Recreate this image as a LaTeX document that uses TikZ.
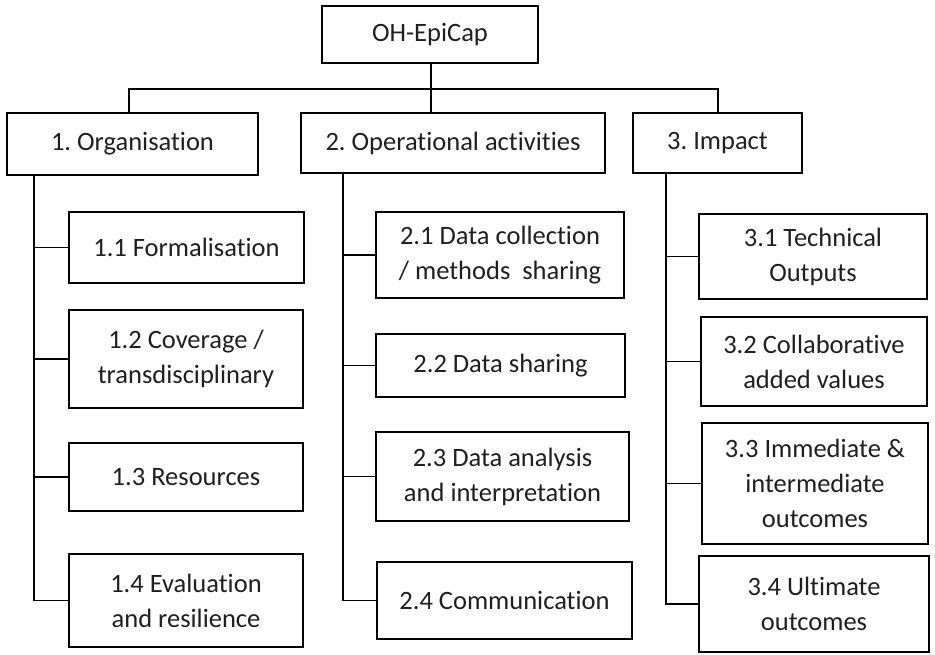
\documentclass[tikz,border=0pt]{standalone}
\usepackage{fontspec}
\setmainfont{Carlito}[Ligatures={NoCommon}]
\begin{document}
\frenchspacing
\begin{tikzpicture}[x=1pt,y=-1pt,
  box/.style={draw=black,line width=1.7pt,rectangle,inner sep=0pt,align=center,
    text=black!88,font=\fontsize{26.5}{35}\selectfont},
  conn/.style={draw=black,line width=1.7pt}]
\useasboundingbox (0,0) rectangle (935,654);
% top level
\node[box,minimum width=216,minimum height=57] (top) at (430,34.5) {OH-EpiCap};
\node[box,minimum width=251,minimum height=62] (b1) at (132.5,144) {1. Organisation};
\node[box,minimum width=304,minimum height=60] (b2) at (453,143) {2. Operational activities};
\node[box,minimum width=169,minimum height=60] (b3) at (717.5,143) {3. Impact};
% column 1
\node[box,minimum width=235,minimum height=71] (n11) at (186.5,247.5) {1.1 Formalisation};
\node[box,minimum width=234,minimum height=98] (n12) at (186,359) {1.2 Coverage /\\transdisciplinary};
\node[box,minimum width=234,minimum height=68] (n13) at (186,477) {1.3 Resources};
\node[box,minimum width=234,minimum height=93] (n14) at (186,600.5) {1.4 Evaluation\\and resilience};
% column 2
\node[box,minimum width=248,minimum height=86] (n21) at (500,255) {2.1 Data collection\\/ methods\ \ sharing};
\node[box,minimum width=249,minimum height=63] (n22) at (500.5,365.5) {2.2 Data sharing};
\node[box,minimum width=253,minimum height=89] (n23) at (502.5,476.5) {2.3 Data analysis\\and interpretation};
\node[box,minimum width=255,minimum height=77] (n24) at (504.5,600.5) {2.4 Communication};
% column 3
\node[box,minimum width=228,minimum height=85] (n31) at (813,256.5) {3.1 Technical\\Outputs};
\node[box,minimum width=226,minimum height=89] (n32) at (814,361.5) {3.2 Collaborative\\added values};
\node[box,minimum width=226,minimum height=121] (n33) at (815,483.5) {3.3 Immediate \&\\intermediate\\outcomes};
\node[box,minimum width=230,minimum height=96] (n34) at (814,604) {3.4 Ultimate\\outcomes};
% bus
\coordinate (busL) at (129,89);
\coordinate (busR) at (718,89);
\coordinate (s1) at (34,0);
\coordinate (s2) at (343,0);
\coordinate (s3) at (666,0);
\draw[conn] (top.south -| 431,0) -- (b2.north -| 431,0);
\draw[conn] (busL |- b1.north) |- (busR) -- (busR |- b3.north);
% stems
\draw[conn] (s1 |- b1.south) |- (n14.west);
\draw[conn] (s1 |- n11.west) -- (n11.west);
\draw[conn] (s1 |- n12.west) -- (n12.west);
\draw[conn] (s1 |- n13.west) -- (n13.west);
\draw[conn] (s2 |- b2.south) |- (n24.west);
\draw[conn] (s2 |- n21.west) -- (n21.west);
\draw[conn] (s2 |- n22.west) -- (n22.west);
\draw[conn] (s2 |- n23.west) -- (n23.west);
\draw[conn] (s3 |- b3.south) |- (n34.west);
\draw[conn] (s3 |- n31.west) -- (n31.west);
\draw[conn] (s3 |- n32.west) -- (n32.west);
\draw[conn] (s3 |- n33.west) -- (n33.west);
\end{tikzpicture}
\end{document}
